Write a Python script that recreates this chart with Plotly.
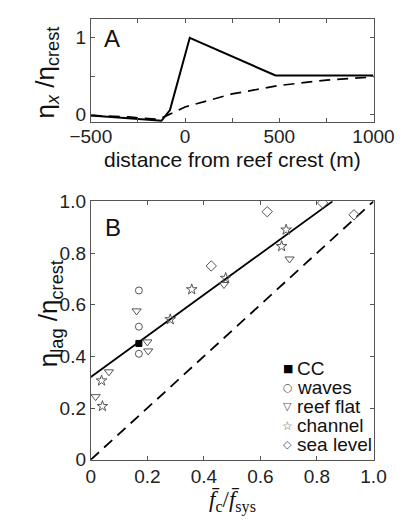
import plotly.graph_objects as go

# ---------- Panel A data ----------
a_solid_x = [-500, -170, -125, -80, 25, 480, 1000]
a_solid_y = [-0.01, -0.07, -0.08, 0.06, 1.0, 0.51, 0.51]
a_dash_x = [-500, -300, -150, -130, 0, 250, 500, 750, 1000]
a_dash_y = [-0.01, -0.03, -0.06, -0.05, 0.1, 0.27, 0.38, 0.45, 0.49]

# ---------- Panel B data ----------
fit_x = [0, 0.855]
fit_y = [0.32, 1.0]
one_x = [0, 1]
one_y = [0, 1]
cc_x = [0.17]
cc_y = [0.45]
waves_x = [0.17, 0.17, 0.17]
waves_y = [0.655, 0.515, 0.41]
reef_x = [0.162, 0.20, 0.203, 0.471, 0.703, 0.064, 0.017]
reef_y = [0.576, 0.456, 0.421, 0.678, 0.777, 0.34, 0.244]
chan_x = [0.038, 0.041, 0.281, 0.357, 0.477, 0.675, 0.691]
chan_y = [0.306, 0.207, 0.543, 0.659, 0.703, 0.826, 0.89]
sea_x = [0.426, 0.624, 0.82, 0.931]
sea_y = [0.75, 0.96, 0.994, 0.948]

legend_names = ["CC", "waves", "reef flat", "channel", "sea level"]
legend_glyphs = ["\u25a0", "\u25cb", "\u25bd", "\u2606", "\u25c7"]

W, H = 414, 528
FONT = "Liberation Sans, Arial, sans-serif"
AX = "#555555"
MK = "#555555"

fig = go.Figure()

fig.add_trace(go.Scatter(x=a_dash_x, y=a_dash_y, mode="lines", xaxis="x", yaxis="y",
                         line=dict(color="black", width=1.7, dash="11px,7px"), showlegend=False))
fig.add_trace(go.Scatter(x=a_solid_x, y=a_solid_y, mode="lines", xaxis="x", yaxis="y",
                         line=dict(color="black", width=2), showlegend=False))

fig.add_trace(go.Scatter(x=one_x, y=one_y, mode="lines", xaxis="x2", yaxis="y2",
                         line=dict(color="black", width=1.8, dash="11px,7px"), showlegend=False))
fig.add_trace(go.Scatter(x=fit_x, y=fit_y, mode="lines", xaxis="x2", yaxis="y2",
                         line=dict(color="black", width=1.8), showlegend=False))

def mk(x, y, name, symbol, color=MK, size=7):
    fig.add_trace(go.Scatter(x=x, y=y, mode="markers", name=name, xaxis="x2", yaxis="y2",
                             showlegend=False,
                             marker=dict(symbol=symbol, size=size, color=color,
                                         line=dict(color=color, width=1))))

mk(waves_x, waves_y, "waves", "circle-open")
mk(reef_x, reef_y, "reef flat", "triangle-down-open", size=8)
mk(chan_x, chan_y, "channel", "star-open", size=8)
mk(sea_x, sea_y, "sea level", "diamond-open", size=8)
mk(cc_x, cc_y, "CC", "square", color="black", size=6)

axcommon = dict(showline=True, mirror="ticks", linecolor=AX, linewidth=1, ticks="inside",
                ticklen=4, tickcolor=AX, showgrid=False, zeroline=False,
                tickfont=dict(family=FONT, size=19, color="#222"))

xa = 77.7 / W
xb = 392.3 / W

fig.update_layout(
    width=W, height=H, margin=dict(l=0, r=0, t=0, b=0),
    paper_bgcolor="white", plot_bgcolor="white",
    xaxis=dict(domain=[xa, xb], range=[-500, 1000], anchor="y", ticklabelstandoff=-3,
               tickvals=[-500, -250, 0, 250, 500, 750, 1000],
               ticktext=["\u2212500", "", "0", "", "500", "", "1000"], **axcommon),
    yaxis=dict(domain=[1 - 117 / H, 1 - 9 / H], range=[-0.1, 1.25], anchor="x",
               tickvals=[0, 0.5, 1], ticktext=["0", "", "1"], **axcommon),
    xaxis2=dict(domain=[xa, xb], range=[0, 1], anchor="y2",
                tickvals=[0, 0.2, 0.4, 0.6, 0.8, 1.0],
                ticktext=["0", "0.2", "0.4", "0.6", "0.8", "1.0"], **axcommon),
    yaxis2=dict(domain=[1 - 468.3 / H, 1 - 199.3 / H], range=[0, 1], anchor="x2",
                tickvals=[0, 0.2, 0.4, 0.6, 0.8, 1.0],
                ticktext=["0", "0.2", "0.4", "0.6", "0.8", "1.0"], **axcommon),
    showlegend=False,
)

ann = [
    dict(text="A", x=101 / W, y=1 - 30 / H, font=dict(size=24)),
    dict(text="B", x=102 / W, y=1 - 226 / H, font=dict(size=24)),
    dict(text="distance from reef crest (m)", x=(xa + xb) / 2, y=1 - 156 / H, font=dict(size=21)),
    dict(text="\u03b7<sub><i>x</i></sub> /\u03b7<sub>crest</sub>", x=28 / W, y=1 - 65 / H,
         textangle=-90, font=dict(size=26)),
    dict(text="\u03b7<sub>lag</sub> /\u03b7<sub>crest</sub>", x=32 / W, y=1 - 316 / H,
         textangle=-90, font=dict(size=26)),
    dict(text="<i>f\u0304</i><sub>c</sub>/<i>f\u0304</i><sub>sys</sub>", x=(xa + xb) / 2, y=1 - 512 / H,
         font=dict(size=23, family="Liberation Serif, Times New Roman, serif")),
]
for a in ann:
    f = dict(family=FONT, color="#111")
    f.update(a.pop("font"))
    fig.add_annotation(xref="paper", yref="paper", showarrow=False, xanchor="center",
                       yanchor="middle", font=f, **a)

# legend built as text rows
for i, (g, nm) in enumerate(zip(legend_glyphs, legend_names)):
    yc = 1 - (373 + 20 * i) / H
    gcol = "black" if i == 0 else MK
    fig.add_annotation(xref="paper", yref="paper", showarrow=False, x=297 / W, y=yc,
                       xanchor="center", yanchor="middle", text=g,
                       font=dict(family="DejaVu Sans", size=11 if i != 3 else 12, color=gcol))
    fig.add_annotation(xref="paper", yref="paper", showarrow=False, x=305 / W, y=yc,
                       xanchor="left", yanchor="middle", text=nm,
                       font=dict(family=FONT, size=19, color="#111"))

fig.write_html("out.html")
